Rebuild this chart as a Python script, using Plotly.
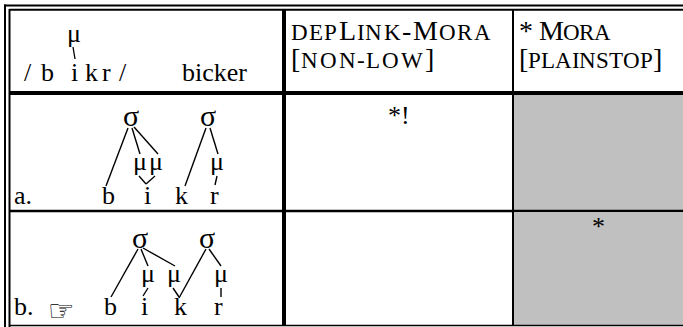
import plotly.graph_objects as go

W, H = 683, 327
SERIF = "Liberation Serif"
FS = 26      # main font size
FSC = 28     # header capitals
SC = 23      # small-caps size

# ---------------- tableau content ----------------
input_segments = ["/", "b", "i", "k", "r", "/"]
input_mora = "μ"
gloss = "bicker"
# constraint names: (text, is_small_caps)
constraint_line1 = [
    [("dep", True), ("L", False), ("ink", True), ("-", False), ("M", False), ("ora", True)],
    [("* ", False), ("M", False), ("ora", True)],
]
constraint_line2 = [
    [("[", False), ("non-low", True), ("]", False)],
    [("[", False), ("plainstop", True), ("]", False)],
]
candidate_labels = ["a.", "b."]
winner = [False, True]
candidate_segments = ["b", "i", "k", "r"]
violations = [["*!", ""], ["", "*"]]
shaded = [[False, True], [False, True]]

# ---------------- geometry (pixel layout) ----------------
col_x = [9.5, 284, 513, 683]
row_y = [9.8, 93, 211, 325.5]
header_text_x = [290, 519]
header_line1_w = [202, 91]
header_line2_w = [145, 143]
header_baselines = [40, 68]
seg_x_header = [27.5, 47.5, 74.5, 91, 106, 123]
seg_x_rows = [[108, 147, 181, 214], [110, 144, 180, 218]]
sigma_pos = [[(131, 115), (208, 115)], [(140, 237), (207, 237)]]
mora_pos = [[(140, 161), (156, 161), (217, 161)], [(148, 273), (174, 273), (221, 273)]]
seg_y = [195, 306]
assoc_lines = [
    [((128, 128), (106, 186)), ((132, 128), (140, 154)), ((134, 127), (158, 154)),
     ((139, 176), (146, 184)), ((155, 176), (146, 184)),
     ((206, 128), (185, 186)), ((210, 128), (218, 154)), ((217, 176), (215, 185))],
    [((138, 249), (111, 297)), ((141, 249), (148, 266)), ((143, 248), (175, 266)),
     ((206, 249), (179, 298)), ((209, 249), (221, 266)),
     ((148, 288), (143, 296)), ((173, 288), (179, 297)), ((221, 288), (221, 297))],
]

# Times advance widths (em) for header glyphs
TW = {"A": .722, "D": .722, "E": .611, "I": .333, "K": .722, "L": .611, "M": .889,
      "N": .722, "O": .722, "P": .556, "R": .667, "S": .556, "T": .611, "W": .944,
      "-": .333, "[": .333, "]": .333, "*": .5, " ": .25}

fig = go.Figure()
shapes = []
ann = []


def line(x0, y0, x1, y1, w, color="black"):
    shapes.append(dict(type="line", x0=x0, y0=y0, x1=x1, y1=y1, xref="x", yref="y",
                       line=dict(color=color, width=w)))


def text(x, y, s, size=FS, xanchor="center", font=SERIF):
    ann.append(dict(x=x, y=y, text=s, showarrow=False, xref="x", yref="y",
                    xanchor=xanchor, yanchor="middle",
                    font=dict(family=font, size=size, color="black")))


def header(parts, x0, width, baseline):
    glyphs = []
    for t, sc in parts:
        for ch in t:
            ch2 = ch.upper()
            size = SC if sc else FSC
            glyphs.append((ch2, size, TW.get(ch2, .6) * size))
    nat = sum(g[2] for g in glyphs)
    k = width / nat
    cx = x0
    for ch, size, w in glyphs:
        if ch != " ":
            text(cx + k * w / 2, baseline - 0.3375 * size, ch, size=size)
        cx += k * w


# shaded cells
for r in range(2):
    for c in range(2):
        if shaded[r][c]:
            shapes.append(dict(type="rect", x0=col_x[c + 1] + 1, x1=col_x[c + 2],
                               y0=row_y[r + 1] + 2, y1=row_y[r + 2], xref="x", yref="y",
                               fillcolor="#c0c0c0", line=dict(width=0), layer="below"))

# frame
line(4, 5.5, W, 5.5, 2)
line(5, 4.5, 5, H, 2)
line(9.5, 9.8, W, 9.8, 2)
line(9.5, 9, 9.5, H, 2)
line(9.5, row_y[1], W, row_y[1], 4)
line(9.5, row_y[2], W, row_y[2], 2.5)
line(9.5, row_y[3], W, row_y[3], 1.5)
line(col_x[1], 9.8, col_x[1], row_y[3], 4)
line(col_x[2], 9.8, col_x[2], row_y[3], 2)

# header: input
text(73.5, 33, input_mora)
line(73, 47, 75, 59, 1.3)
for x, s in zip(seg_x_header, input_segments):
    text(x, 72, s)
text(214, 72, gloss)

# constraint headers
for c in range(2):
    header(constraint_line1[c], header_text_x[c], header_line1_w[c], header_baselines[0])
    header(constraint_line2[c], header_text_x[c], header_line2_w[c], header_baselines[1])

# candidates
for r in range(2):
    ytxt = seg_y[r]
    text(12, ytxt, candidate_labels[r], xanchor="left")
    if winner[r]:
        text(61, ytxt + 4, "☞", size=30, font="DejaVu Sans")
    for x, s in zip(seg_x_rows[r], candidate_segments):
        text(x, ytxt, s)
    for (x, y) in sigma_pos[r]:
        text(x, y, "σ", size=30)
    for (x, y) in mora_pos[r]:
        text(x, y, "μ")
    for (p0, p1) in assoc_lines[r]:
        line(p0[0], p0[1], p1[0], p1[1], 1.4)

# violations
viol_y = [[115, 0], [0, 226]]
for r in range(2):
    for c in range(2):
        v = violations[r][c]
        if v:
            cx = (col_x[c + 1] + col_x[c + 2]) / 2
            text(cx, viol_y[r][c], v)

fig.update_layout(
    width=W, height=H, margin=dict(l=0, r=0, t=0, b=0),
    paper_bgcolor="white", plot_bgcolor="white", showlegend=False,
    xaxis=dict(range=[0, W], visible=False, fixedrange=True),
    yaxis=dict(range=[H, 0], visible=False, fixedrange=True),
    shapes=shapes, annotations=ann,
)
fig.write_html("out.html", config={"displayModeBar": False},
               post_script="document.body.style.margin='0px';document.body.style.overflow='hidden';")
